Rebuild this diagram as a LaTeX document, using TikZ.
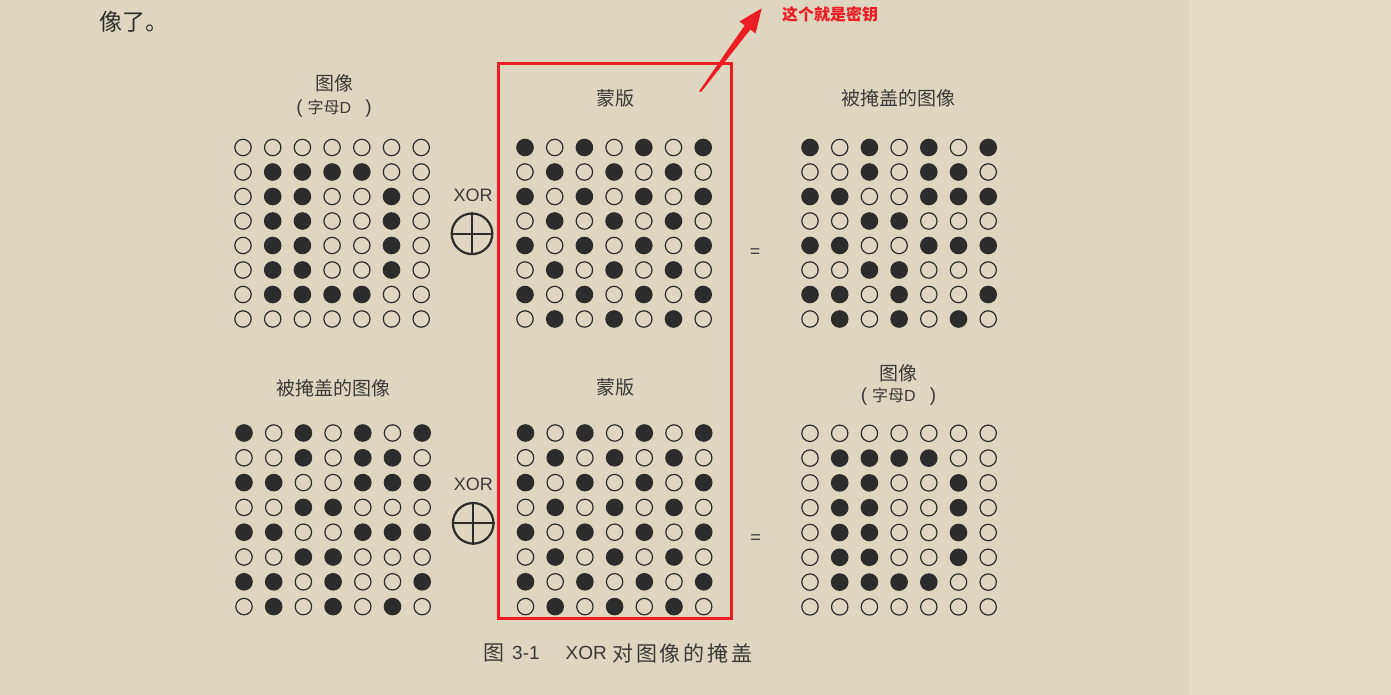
\documentclass[tikz,border=0pt]{standalone}
\usepackage{fontspec}
\setmainfont{Noto Sans CJK SC}
\newfontfamily\lat{Liberation Sans}
\usetikzlibrary{calc}
\definecolor{bgL}{HTML}{DED6BF}
\definecolor{bgR}{HTML}{E3DCC5}
\definecolor{ink}{HTML}{2C2C2C}
\definecolor{txt}{HTML}{3A3A3A}
\definecolor{keyred}{HTML}{EC1C24}

\def\patD{{0,0,0,0,0,0,0},{0,1,1,1,1,0,0},{0,1,1,0,0,1,0},{0,1,1,0,0,1,0},{0,1,1,0,0,1,0},{0,1,1,0,0,1,0},{0,1,1,1,1,0,0},{0,0,0,0,0,0,0}}
\def\patM{{1,0,1,0,1,0,1},{0,1,0,1,0,1,0},{1,0,1,0,1,0,1},{0,1,0,1,0,1,0},{1,0,1,0,1,0,1},{0,1,0,1,0,1,0},{1,0,1,0,1,0,1},{0,1,0,1,0,1,0}}
\def\patX{{1,0,1,0,1,0,1},{0,0,1,0,1,1,0},{1,1,0,0,1,1,1},{0,0,1,1,0,0,0},{1,1,0,0,1,1,1},{0,0,1,1,0,0,0},{1,1,0,1,0,0,1},{0,1,0,1,0,1,0}}

\newcommand\dotgrid[5]{%
  \foreach \rowbits [count=\ri from 0] in #5 {
    \foreach \bv [count=\ci from 0] in \rowbits {
      \ifnum\bv=1
        \node[dotcell] (#1-\ri-\ci) at ({#2+\ci*29.7},{#3+\ri*#4}) {};
      \else
        \node[ringcell] (#1-\ri-\ci) at ({#2+\ci*29.7},{#3+\ri*#4}) {};
      \fi
    }
  }
}

\newcommand\subtitle{{\lat\fontsize{19}{21}\selectfont(}\hspace{5pt}字母{\lat D}\hspace{14pt}{\lat\fontsize{19}{21}\selectfont)}}

\tikzset{
  ringcell/.style={circle, draw=ink, line width=1.2pt, minimum size=16.4pt, inner sep=0pt},
  dotcell/.style={ringcell, fill=ink},
  lbl/.style={text=txt, font=\fontsize{19}{21}\selectfont, inner sep=0pt},
  sublbl/.style={text=txt, font=\fontsize{16}{18}\selectfont, inner sep=0pt},
  xortxt/.style={text=txt, font=\lat\fontsize{18}{20}\selectfont, inner sep=0pt},
  eqtxt/.style={text=txt, font=\lat\fontsize{18}{20}\selectfont, inner sep=0pt},
  xorsym/.style={circle, draw=ink, line width=2.2pt, minimum size=40.6pt, inner sep=0pt},
  capt/.style={text=txt, font=\fontsize{21}{23}\selectfont, inner sep=0pt, anchor=west},
  captlat/.style={capt, font=\lat\fontsize{19}{21}\selectfont},
}

\begin{document}
\begin{tikzpicture}[x=1pt, y=-1pt]
\useasboundingbox (0,0) rectangle (1391,695);
\fill[bgL] (0,0) rectangle (1189,695);
\fill[bgR] (1189,0) rectangle (1391,695);

% preceding text line
\node[anchor=west, text=ink, font=\fontsize{23}{25}\selectfont, inner sep=0pt] (prev) at (99,21.7) {像了。};

% top row labels
\node[lbl] (lblA1) at (334,83.3) {图像};
\node[sublbl] (lblA2) at (334,108.3) {\subtitle};
\node[lbl] (lblB) at (615,98.3) {蒙版};
\node[lbl] (lblC) at (898.5,98.3) {被掩盖的图像};

% bottom row labels
\node[lbl] (lblD) at (333.5,388.3) {被掩盖的图像};
\node[lbl] (lblE) at (615,387.7) {蒙版};
\node[lbl] (lblF1) at (898.5,372.8) {图像};
\node[sublbl] (lblF2) at (898.5,396.7) {\subtitle};

% grids
\dotgrid{a}{243}{147.5}{24.5}{\patD}
\dotgrid{b}{525}{147.5}{24.5}{\patM}
\dotgrid{c}{810}{147.5}{24.5}{\patX}
\dotgrid{d}{244}{433}{24.8}{\patX}
\dotgrid{e}{525.5}{433}{24.8}{\patM}
\dotgrid{f}{810}{433.3}{24.8}{\patD}

% operators
\node[xortxt] (xt1) at (473,195.5) {XOR};
\node[xorsym] (xs1) at (472,233.8) {};
\draw[ink, line width=2.2pt] (xs1.north) -- (xs1.south) (xs1.west) -- (xs1.east);
\node[eqtxt] (eq1) at (755,252.7) {=};

\node[xortxt] (xt2) at (473.3,484.5) {XOR};
\node[xorsym] (xs2) at (473.2,523.3) {};
\draw[ink, line width=2.2pt] (xs2.north) -- (xs2.south) (xs2.west) -- (xs2.east);
\node[eqtxt] (eq2) at (755.7,539.3) {=};

% red key box and annotation
\node[draw=keyred, line width=3pt, minimum width=232.5pt, minimum height=554.5pt, inner sep=0pt] (keybox) at (614.75,341.25) {};
\coordinate (arrtail) at (700,91.7);
\coordinate (arrtip) at (761.7,8.3);
\coordinate (neck) at ($(arrtail)!0.77!(arrtip)$);
\fill[keyred] (arrtip) -- ($(neck)!10pt!90:(arrtip)$) -- ($(neck)!3.5pt!90:(arrtip)$)
  -- ($(arrtail)!1pt!90:(arrtip)$) -- ($(arrtail)!1pt!-90:(arrtip)$)
  -- ($(neck)!3.5pt!-90:(arrtip)$) -- ($(neck)!10pt!-90:(arrtip)$) -- cycle;
\node[text=keyred, font=\fontsize{16}{18}\selectfont\bfseries, inner sep=0pt] (keylbl) at (830,14) {这个就是密钥};

% caption
\node[capt] (cap1) at (483,653.3) {图};
\node[captlat] (cap2) at (512,653.3) {3-1};
\node[captlat] (cap3) at (565.5,653.3) {XOR};
\node[capt] (cap4) at (612,653.3) {\makebox[140pt][s]{对\hfil 图\hfil 像\hfil 的\hfil 掩\hfil 盖}};
\end{tikzpicture}
\end{document}
